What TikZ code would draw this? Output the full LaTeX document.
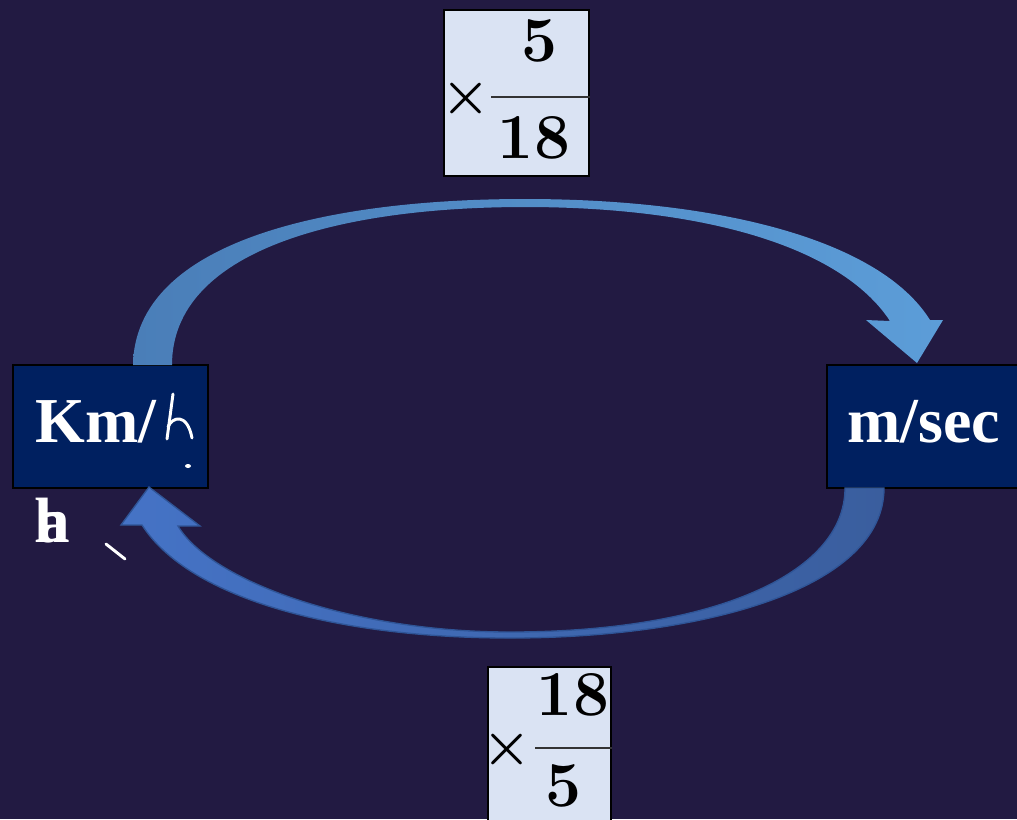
\documentclass[tikz,border=0pt]{standalone}
\usepackage{fontspec}
\newfontfamily\unitfont{Liberation Serif}
\definecolor{bgpurple}{HTML}{221A42}
\definecolor{boxnavy}{HTML}{002060}
\definecolor{fracblue}{HTML}{DAE3F3}
\definecolor{upleft}{HTML}{4A7EB8}
\definecolor{upright}{HTML}{5C9DD8}
\definecolor{lowleft}{HTML}{4573C6}
\definecolor{lowright}{HTML}{3A5E9E}
\definecolor{lowedge}{HTML}{2F5597}
\begin{document}
\begin{tikzpicture}[x=0.75pt,y=-0.75pt,
  unitbox/.style={draw=black, line width=1.5pt, fill=boxnavy, inner sep=0pt, minimum height=92.25pt},
  unittext/.style={text=white, font=\unitfont\bfseries\fontsize{48}{50}\selectfont, inner sep=0pt},
  fracbox/.style={draw=black, line width=1.5pt, fill=fracblue, inner sep=0pt},
  digits/.style={font=\bfseries\fontsize{48}{50}\selectfont, inner sep=0pt},
  timesign/.style={font=\bfseries\fontsize{42}{42}\selectfont, inner sep=0pt},
  pen/.style={white, line width=2.2pt, line cap=round, line join=round}]
\clip (0,0) rectangle (1017,819);
\fill[bgpurple] (0,0) rectangle (1017,819);
% unit boxes
\node[unitbox, minimum width=146.25pt] (kmh) at (110.5,426.5) {};
\node[unitbox, minimum width=148.5pt] (msec) at (926,426.5) {};
\node[unittext, anchor=base west] (kmhtext) at (35,442) {Km/};
\node[unittext, anchor=base west] (msectext) at (847,442) {m/sec};
% handwritten h and stray marks
\draw[pen] (173,394) -- (167,439);
\draw[pen] (168,427) .. controls (172,417) and (187,412) .. (192,438);
\fill[white] (188,466) ellipse (3 and 2);
\draw[pen] (106,544) -- (125,559);
\node[unittext, anchor=base west] (hstray) at (34,542) {h};
\node[unittext, anchor=base west] (astray) at (37,542) {a};
% upper arrow (km/h -> m/sec)
\shade[left color=upleft, right color=upright]
  (133,365) .. controls (135,240) and (330,199) .. (525,199)
  .. controls (720,199) and (880,240) .. (930,320)
  -- (943,320) -- (917,363) -- (866,320) -- (890,321)
  .. controls (840,245) and (700,207) .. (525,207)
  .. controls (340,207) and (172,250) .. (172,365) -- cycle;
% lower arrow (m/sec -> km/h)
\shade[left color=lowleft, right color=lowright, draw=lowedge, line width=1pt, line join=miter]
  (845,488) .. controls (845,575) and (710,632) .. (510,632)
  .. controls (350,632) and (210,580) .. (178,526)
  -- (200,526) -- (149,487) -- (121,525) -- (142,525)
  .. controls (190,600) and (340,638) .. (510,638)
  .. controls (700,638) and (884,590) .. (884,488) -- cycle;
% conversion factors
\node[fracbox, minimum width=108.75pt, minimum height=124.5pt] (topfrac) at (516.5,93) {};
\node[timesign] (toptimes) at (466,98) {×};
\node[digits] (topnum) at (540,41) {5};
\node[digits] (topden) at (534,138) {18};
\draw[line width=2.2pt, black!80] (491,97) -- (topfrac.east |- 0,97);
\node[fracbox, minimum width=92.25pt, minimum height=122.25pt] (botfrac) at (549.5,748.5) {};
\node[timesign] (bottimes) at (507,749) {×};
\node[digits] (botnum) at (573,695) {18};
\node[digits] (botden) at (564,786) {5};
\draw[line width=2.2pt, black!80] (535,748) -- (botfrac.east |- 0,748);
\end{tikzpicture}
\end{document}
